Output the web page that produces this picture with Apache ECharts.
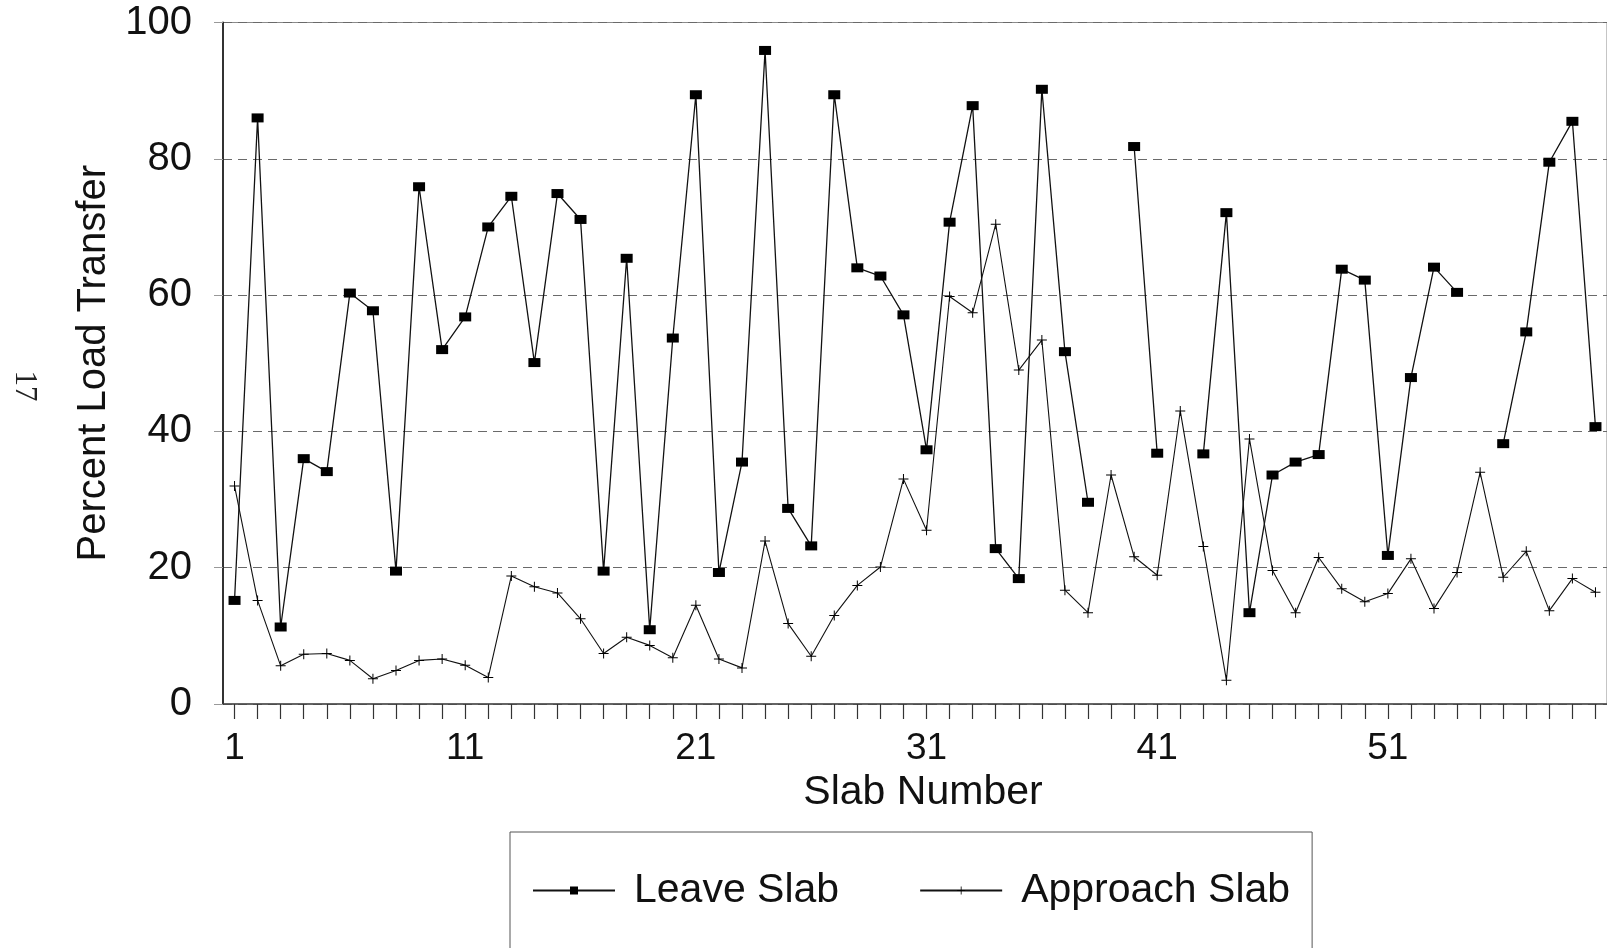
<!DOCTYPE html>
<html>
<head>
<meta charset="utf-8">
<script src="https://cdn.jsdelivr.net/npm/echarts@6/dist/echarts.min.js"></script>
<style>
  html, body { margin: 0; padding: 0; background: #fff; }
  #chart { width: 1607px; height: 948px; }
</style>
</head>
<body>
<div id="chart"></div>
<script>
// ---- Data ----
const slabNumbers = Array.from({length: 60}, (_, i) => String(i + 1));
const leaveSlab = [
  15.2, 86.0, 11.3, 36.0, 34.1, 60.3, 57.7, 19.5, 75.9, 52.0,
  56.8, 70.0, 74.5, 50.1, 74.9, 71.1, 19.5, 65.4, 10.9, 53.7,
  89.4, 19.3, 35.5, 95.9, 28.7, 23.2, 89.4, 64.0, 62.8, 57.1,
  37.3, 70.7, 87.8, 22.8, 18.4, 90.2, 51.7, 29.6, null, 81.8,
  36.8, null, 36.7, 72.1, 13.4, 33.6, 35.5, 36.6, 63.8, 62.2,
  21.8, 47.9, 64.1, 60.4, null, 38.2, 54.6, 79.5, 85.5, 40.7
];
const approachSlab = [
  32.0, 15.2, 5.6, 7.3, 7.4, 6.4, 3.7, 4.9, 6.4, 6.6,
  5.7, 3.9, 18.8, 17.2, 16.3, 12.5, 7.4, 9.8, 8.6, 6.8,
  14.5, 6.6, 5.3, 23.9, 11.8, 7.0, 13.0, 17.4, 20.1, 33.0,
  25.5, 59.8, 57.4, 70.4, 49.0, 53.4, 16.7, 13.4, 33.6, 21.6,
  18.9, 43.0, 23.1, 3.5, 38.9, 19.6, 13.4, 21.5, 16.9, 15.0,
  16.2, 21.3, 14.0, 19.3, 34.0, 18.6, 22.4, 13.7, 18.4, 16.4
];
const seriesNames = ['Leave Slab', 'Approach Slab'];
const yTicks = { min: 0, max: 100, interval: 20 };

const FONT = "'Liberation Sans', Arial, sans-serif";
const plusPath = 'path://M0,4.5H10V5.5H0Z M4.5,0H5.5V10H4.5Z';

const chart = echarts.init(document.getElementById('chart'), null, { renderer: 'canvas' });
chart.setOption({
  backgroundColor: '#ffffff',
  animation: false,
  grid: {
    left: 223, top: 22.5, width: 1393, height: 681.5,
    show: true, borderColor: '#8a8a8a', borderWidth: 1, backgroundColor: 'transparent'
  },
  xAxis: {
    type: 'category',
    data: slabNumbers,
    boundaryGap: true,
    name: 'Slab Number',
    nameLocation: 'middle',
    nameGap: 65,
    nameTextStyle: { fontFamily: FONT, fontSize: 41, color: '#111', padding: [0, 0, 0, 16] },
    axisLine: { show: true, lineStyle: { color: '#444', width: 1.5 } },
    axisTick: { show: true, alignWithLabel: true, interval: 0, length: 15, lineStyle: { color: '#333', width: 1.2 } },
    axisLabel: { interval: 9, fontFamily: FONT, fontSize: 37, color: '#111', margin: 26 },
    splitLine: { show: false }
  },
  yAxis: {
    type: 'value',
    min: yTicks.min, max: yTicks.max, interval: yTicks.interval,
    name: 'Percent Load Transfer',
    nameLocation: 'middle',
    nameGap: 108,
    nameTextStyle: { fontFamily: FONT, fontSize: 40, color: '#111' },
    axisLine: { show: true, lineStyle: { color: '#222', width: 1.8 } },
    axisTick: { show: true, length: 9, lineStyle: { color: '#999', width: 1 } },
    axisLabel: { fontFamily: FONT, fontSize: 40, color: '#111', margin: 31 },
    splitLine: { show: true, lineStyle: { color: '#6a6a6a', width: 1, type: [9, 6] } }
  },
  legend: {
    data: [
      { name: seriesNames[0] },
      { name: seriesNames[1] }
    ],
    left: 510, top: 832,
    padding: [38, 22, 38, 22],
    borderColor: '#555', borderWidth: 1,
    itemWidth: 82, itemHeight: 10,
    itemGap: 80,
    textStyle: { fontFamily: FONT, fontSize: 41, color: '#111', padding: [0, 0, 0, 14] }
  },
  series: [
    {
      name: seriesNames[0],
      type: 'line',
      data: leaveSlab,
      connectNulls: false,
      symbol: 'rect',
      symbolSize: [12, 9],
      itemStyle: { color: '#000' },
      lineStyle: { color: '#111', width: 1.3 },
      z: 3
    },
    {
      name: seriesNames[1],
      type: 'line',
      data: approachSlab,
      symbol: plusPath,
      symbolSize: [10, 10],
      itemStyle: { color: '#000' },
      lineStyle: { color: '#111', width: 1.1 },
      z: 2
    }
  ],
  graphic: [
    {
      type: 'text',
      x: 24, y: 386,
      rotation: -Math.PI / 2,
      style: {
        text: '17',
        fontFamily: "'Liberation Serif', 'DejaVu Serif', serif",
        fontSize: 31,
        fill: '#222',
        align: 'center',
        verticalAlign: 'middle'
      }
    }
  ]
});
</script>
</body>
</html>
